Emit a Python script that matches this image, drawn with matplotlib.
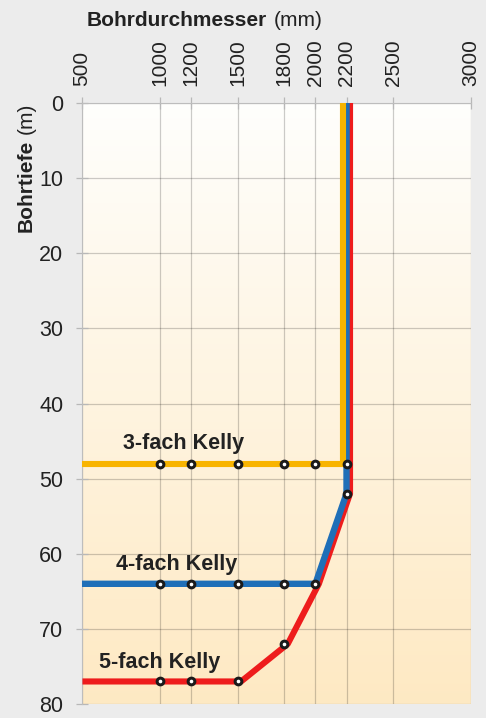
import numpy as np
import matplotlib
matplotlib.use("Agg")
import matplotlib.pyplot as plt
import matplotlib.transforms as mtransforms

# Data
x_ticks = [500, 1000, 1200, 1500, 1800, 2000, 2200, 2500, 3000]
y_ticks = [0, 10, 20, 30, 40, 50, 60, 70, 80]

kelly3_x = [2200, 2200, 500]
kelly3_y = [0, 48, 48]
kelly3_dots_x = [1000, 1200, 1500, 1800, 2000, 2200]
kelly3_dots_y = [48, 48, 48, 48, 48, 48]

kelly4_x = [2200, 2200, 2000, 500]
kelly4_y = [0, 52, 64, 64]
kelly4_dots_x = [1000, 1200, 1500, 1800, 2000, 2200]
kelly4_dots_y = [64, 64, 64, 64, 64, 52]

kelly5_x = [2200, 2200, 2000, 1800, 1500, 500]
kelly5_y = [0, 52, 64, 72, 77, 77]
kelly5_dots_x = [1000, 1200, 1500, 1800]
kelly5_dots_y = [77, 77, 77, 72]

labels = ["3-fach Kelly", "4-fach Kelly", "5-fach Kelly"]
label_x = [1150, 1110, 1000]
label_y = [45.3, 61.4, 74.5]

plt.rcParams["font.family"] = ["Liberation Sans", "DejaVu Sans"]
TXT = "#222222"
FS = 15

fig = plt.figure(figsize=(4.86, 7.18), dpi=100)
fig.patch.set_facecolor("#ececec")
ax = fig.add_axes([82 / 486, 1 - 704 / 718, 389 / 486, 601 / 718])

# Gradient background: white at top to peach at bottom
top = np.array([1.0, 0.998, 0.99])
bot = np.array([0.996, 0.915, 0.765])
t = np.linspace(0, 1, 256)[:, None]
grad = (top * (1 - t) + bot * t)[:, None, :]
ax.imshow(grad, extent=[500, 3000, 80, 0], aspect="auto", zorder=0,
          interpolation="bilinear")

ax.set_xlim(500, 3000)
ax.set_ylim(80, 0)
ax.xaxis.tick_top()
ax.set_xticks(x_ticks)
ax.set_xticklabels([str(v) for v in x_ticks], rotation=90, fontsize=FS,
                   color=TXT)
ax.set_yticks(y_ticks)
ax.set_yticklabels([str(v) for v in y_ticks], fontsize=FS + 0.5, color=TXT)
ax.tick_params(axis="both", length=9, width=0.9, color="#b8b8b8",
               direction="inout")
ax.tick_params(axis="x", pad=8)
ax.tick_params(axis="y", pad=9)
ax.grid(True, color="#000000", alpha=0.2, linewidth=0.9, zorder=1)
for side in ["top", "left"]:
    ax.spines[side].set_color("#bdbdbd")
for side in ["bottom", "right"]:
    ax.spines[side].set_visible(False)

# Small pixel offsets so the three vertical lines sit side by side
off_l = mtransforms.offset_copy(ax.transData, fig=fig, x=-3.5, y=0, units="dots")
off_r = mtransforms.offset_copy(ax.transData, fig=fig, x=3.5, y=0, units="dots")

ax.plot(kelly5_x, kelly5_y, color="#ee1c1c", linewidth=4.4, transform=off_r,
        solid_joinstyle="round", zorder=3)
ax.plot(kelly4_x, kelly4_y, color="#1f6fb8", linewidth=4.6,
        solid_joinstyle="round", zorder=4)
ax.plot(kelly3_x, kelly3_y, color="#f8b400", linewidth=4.4, transform=off_l,
        solid_joinstyle="round", zorder=5)

dot_kw = dict(linestyle="none", marker="o", markersize=6.0,
              markerfacecolor="#1a1a1a", markeredgecolor="#1a1a1a", zorder=6)
inner_kw = dict(linestyle="none", marker="o", markersize=1.6,
                markerfacecolor="white", markeredgecolor="white", zorder=7)
for xs, ys in [(kelly3_dots_x, kelly3_dots_y), (kelly4_dots_x, kelly4_dots_y),
               (kelly5_dots_x, kelly5_dots_y)]:
    ax.plot(xs, ys, **dot_kw)
    ax.plot(xs, ys, **inner_kw)

for lab, lx, ly in zip(labels, label_x, label_y):
    ax.text(lx, ly, lab, ha="center", va="center", fontsize=FS + 0.5,
            fontweight="bold", color=TXT, zorder=8)

# Axis titles (bold word + regular unit)
fig.text(267 / 486, 1 - 20 / 718, "Bohrdurchmesser", ha="right",
         va="center", fontsize=FS, fontweight="bold", color=TXT)
fig.text(274 / 486, 1 - 20 / 718, "(mm)", ha="left", va="center",
         fontsize=FS, color=TXT)
fig.text(26 / 486, 1 - 232 / 718, "Bohrtiefe", ha="center", va="bottom",
         rotation=90, fontsize=FS, fontweight="bold", color=TXT)
fig.text(26 / 486, 1 - 103 / 718, "(m)", ha="center", va="top",
         rotation=90, fontsize=FS, color=TXT)

fig.savefig("out.png", dpi=100, facecolor=fig.get_facecolor())
plt.close(fig)
